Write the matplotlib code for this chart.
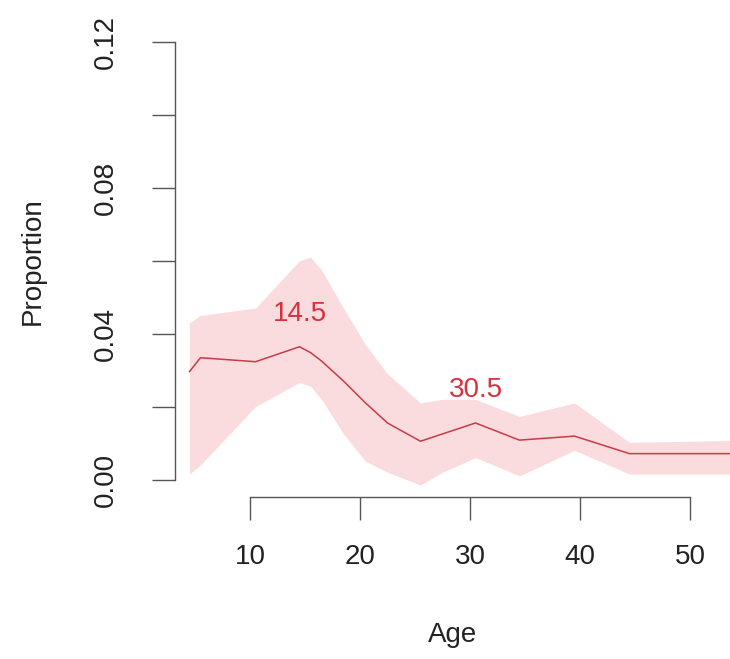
import numpy as np
import matplotlib.pyplot as plt

plt.rcParams['font.family'] = ['Liberation Sans', 'DejaVu Sans']

# Data
age = [4.5, 5.5, 10.5, 14.5, 15.5, 16.5, 18.5, 20.5, 22.5, 25.5, 27.5,
       30.5, 34.5, 39.5, 44.5, 55.5]
prop = [0.0296, 0.0334, 0.0323, 0.0364, 0.0348, 0.0325, 0.027, 0.021,
        0.0155, 0.0105, 0.0125, 0.0155, 0.0108, 0.0119, 0.0071, 0.0071]
upper = [0.043, 0.045, 0.047, 0.060, 0.061, 0.0575, 0.047, 0.037,
         0.029, 0.021, 0.022, 0.022, 0.0173, 0.021, 0.0102, 0.0108]
lower = [0.0015, 0.004, 0.020, 0.0266, 0.0256, 0.022, 0.0125, 0.005,
         0.002, -0.0015, 0.002, 0.006, 0.001, 0.008, 0.0015, 0.0015]
peaks = [14.5, 30.5]
xticks = [10, 20, 30, 40, 50]
yticks = [0.00, 0.02, 0.04, 0.06, 0.08, 0.10, 0.12]
ylabels = ["0.00", "", "0.04", "", "0.08", "", "0.12"]

line_col = "#c93a44"
band_col = "#fadcdf"
text_col = "#d9303d"
axis_col = "#555555"

fig = plt.figure(figsize=(7.3, 6.59), dpi=100)
ax = fig.add_axes([0.2397, 0.2458, 0.7603, 0.7172])

ax.fill_between(age, lower, upper, color=band_col, lw=0)
ax.plot(age, prop, color=line_col, lw=1.1)

# peak labels just above the curve
for p in peaks:
    ax.text(p, np.interp(p, age, prop) + 0.009, f"{p}", color=text_col,
            fontsize=20, ha="center", va="center")

ax.set_xlim(3.18, 53.64)
ax.set_ylim(-0.0048, 0.1248)

for s in ["top", "right"]:
    ax.spines[s].set_visible(False)
ax.spines["left"].set_bounds(0, 0.12)
ax.spines["bottom"].set_bounds(10, 50)
for s in ["left", "bottom"]:
    ax.spines[s].set_color(axis_col)
    ax.spines[s].set_linewidth(1.0)

ax.set_xticks(xticks)
ax.set_yticks(yticks)
ax.set_yticklabels(ylabels, rotation=90, va="center")
ax.tick_params(axis="both", direction="out", length=16.5, width=1.0,
               color=axis_col, labelsize=20, labelcolor="#222222")
ax.tick_params(axis="x", pad=17)
ax.tick_params(axis="y", pad=24)

ax.set_xlabel("Age", fontsize=20, color="#222222", labelpad=38)
ax.set_ylabel("Proportion", fontsize=20, color="#222222", labelpad=34)

fig.savefig("out.png", dpi=100)
